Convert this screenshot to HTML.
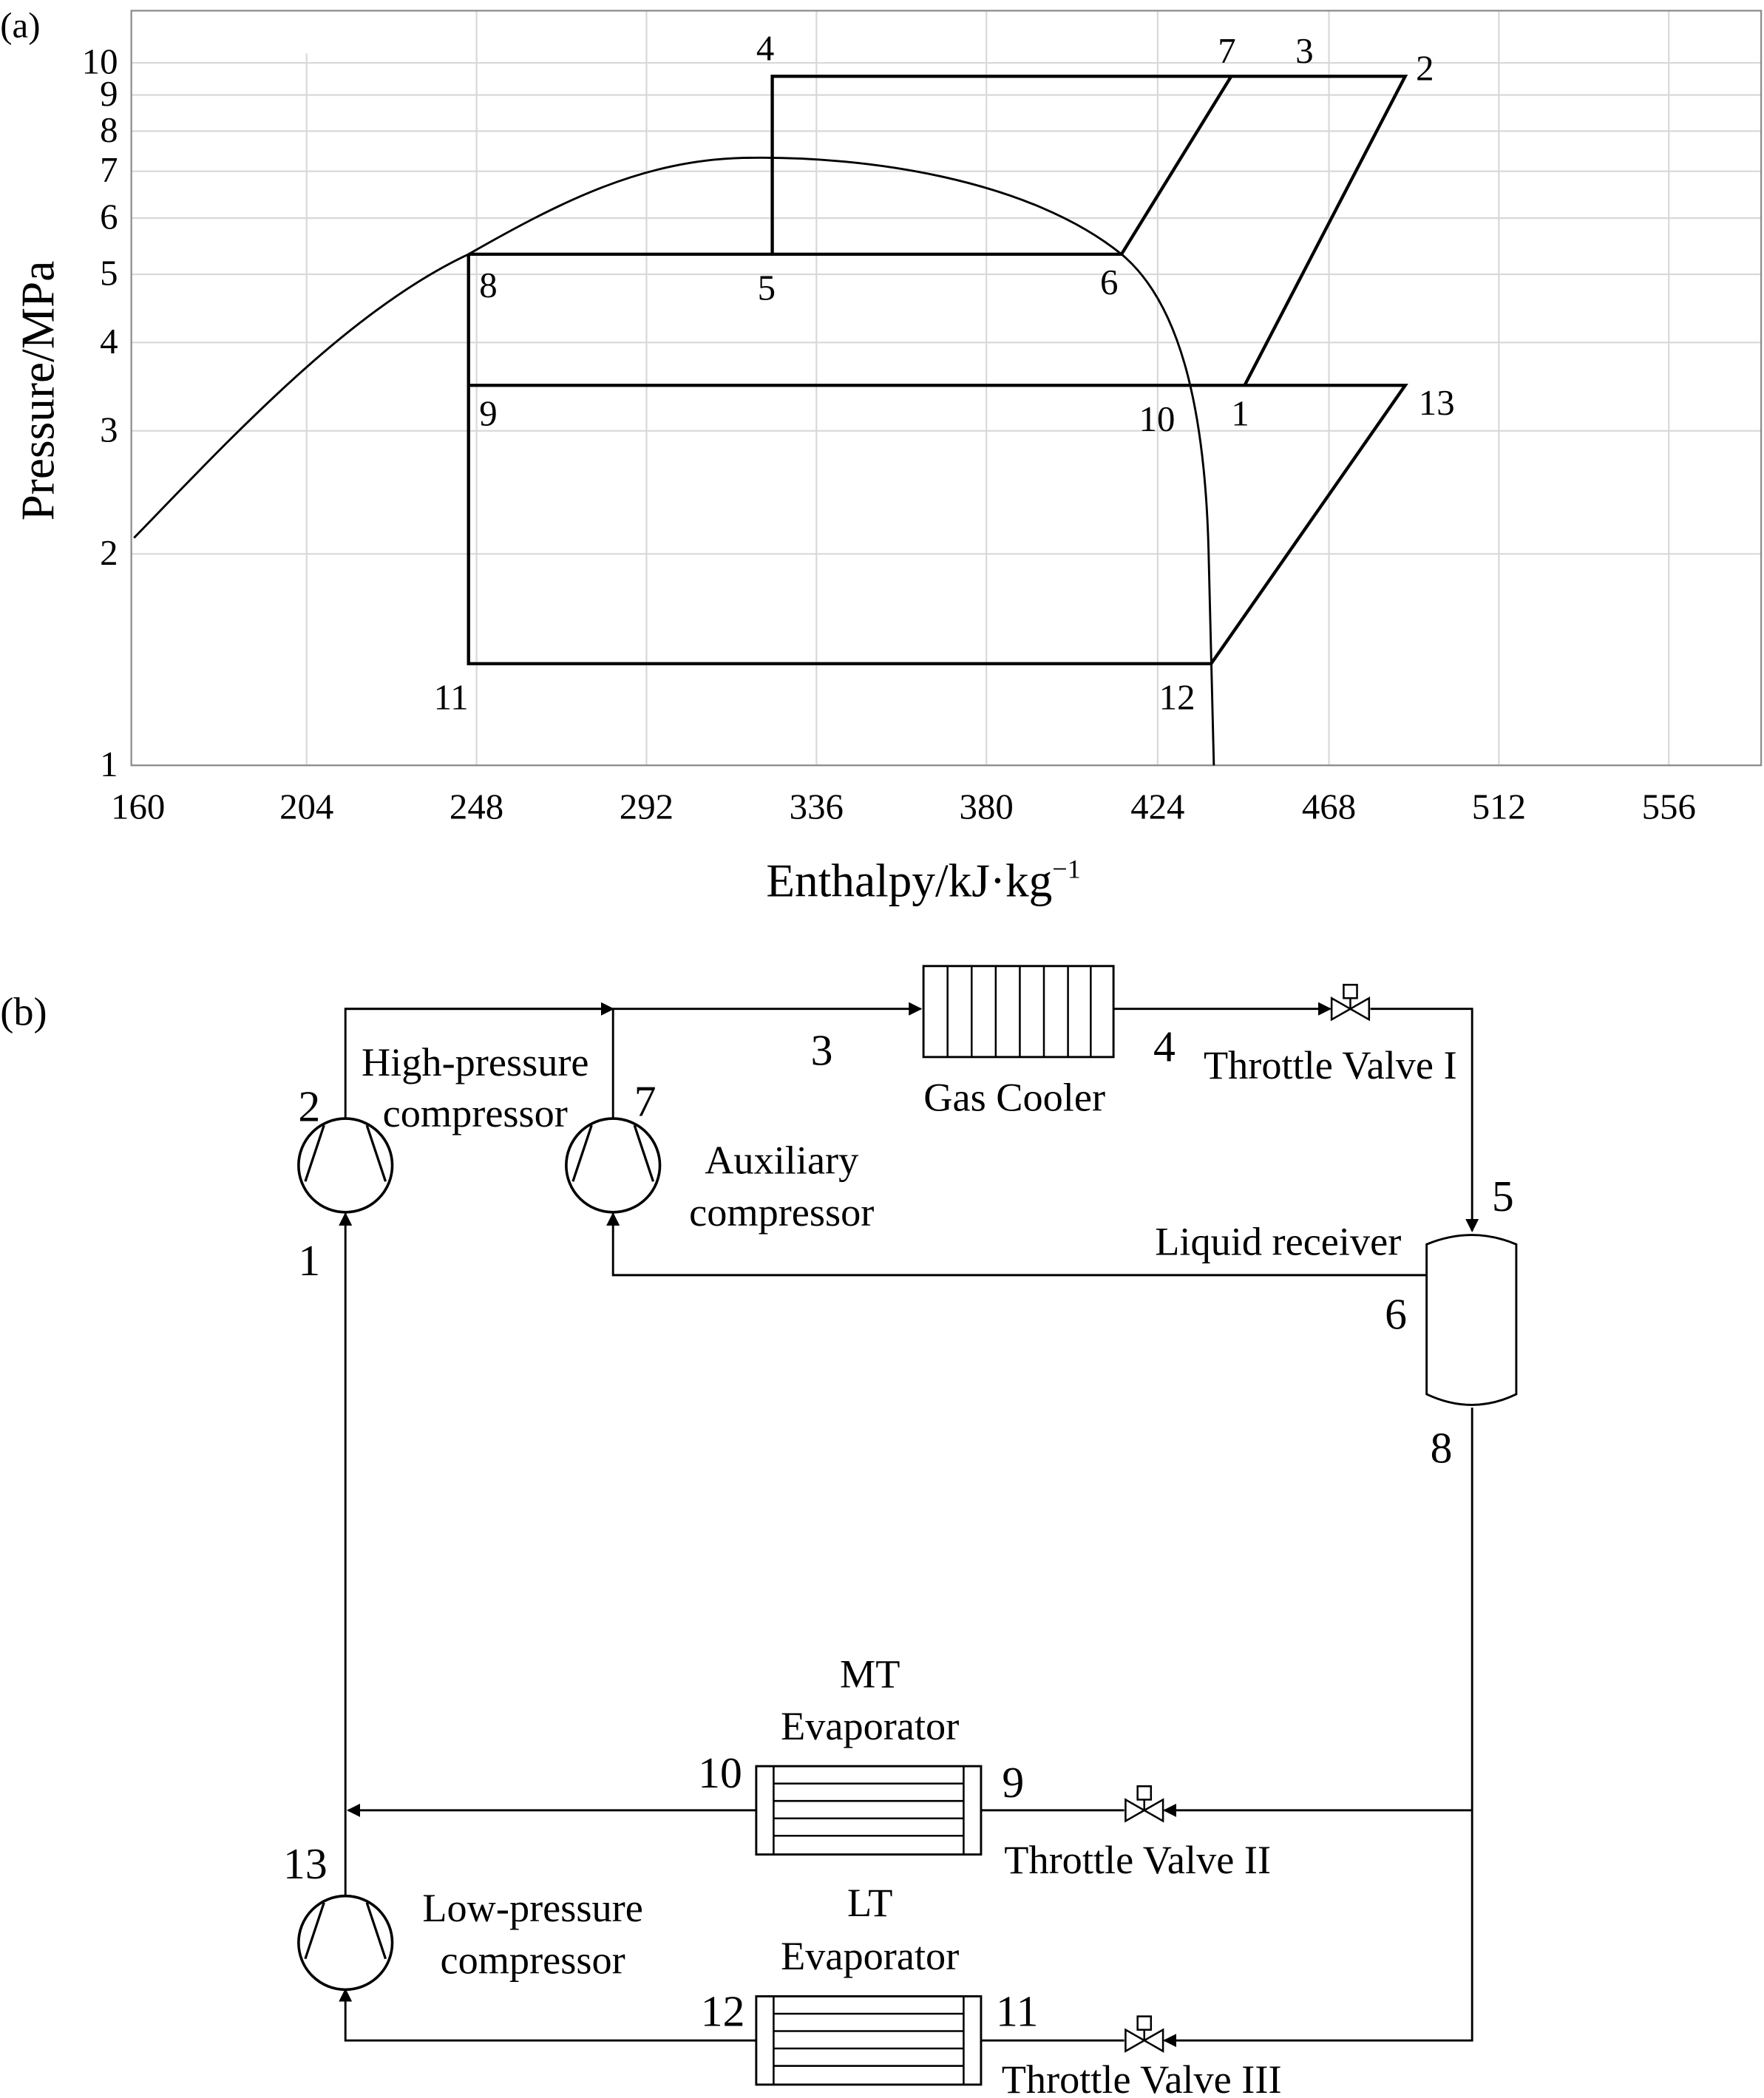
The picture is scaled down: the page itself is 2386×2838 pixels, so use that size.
<!DOCTYPE html>
<html><head><style>html,body{margin:0;padding:0;background:#fff}svg{display:block}</style></head>
<body>
<svg width="2386" height="2838" viewBox="0 0 1318 1568" xmlns="http://www.w3.org/2000/svg" font-family="Liberation Serif, serif" fill="#000">
<defs>
<marker id="ar" viewBox="0 0 10 10" refX="9" refY="5" markerWidth="10" markerHeight="10" markerUnits="userSpaceOnUse" orient="auto"><path d="M0,0 L10,5 L0,10 z"/></marker>
<g id="valve"><path d="M-14,-8 L-14,8 L0,0 Z M14,-8 L14,8 L0,0 Z" fill="#fff" stroke="#000" stroke-width="1.4"/><line x1="0" y1="0" x2="0" y2="-8" stroke="#000" stroke-width="1.4"/><rect x="-5" y="-18" width="10" height="10" fill="#fff" stroke="#000" stroke-width="1.4"/></g>
<g id="comp"><circle r="35" fill="#fff" stroke="#000" stroke-width="2"/><path d="M-16,-30 L-30,12 M16,-30 L30,12" fill="none" stroke="#000" stroke-width="1.8"/></g>
</defs>
<!-- (a) chart -->
<g stroke="#d8d8d8" stroke-width="1.2">
<line x1="98" y1="572" x2="1316" y2="572"/><line x1="98" y1="414" x2="1316" y2="414"/><line x1="98" y1="322" x2="1316" y2="322"/><line x1="98" y1="256" x2="1316" y2="256"/><line x1="98" y1="205" x2="1316" y2="205"/><line x1="98" y1="163" x2="1316" y2="163"/><line x1="98" y1="128" x2="1316" y2="128"/><line x1="98" y1="98" x2="1316" y2="98"/><line x1="98" y1="71" x2="1316" y2="71"/><line x1="98" y1="47" x2="1316" y2="47"/>
<line x1="229" y1="40" x2="229" y2="572"/><line x1="356" y1="8" x2="356" y2="572"/><line x1="483" y1="8" x2="483" y2="572"/><line x1="610" y1="8" x2="610" y2="572"/><line x1="737" y1="8" x2="737" y2="572"/><line x1="865" y1="8" x2="865" y2="572"/><line x1="993" y1="8" x2="993" y2="572"/><line x1="1120" y1="8" x2="1120" y2="572"/><line x1="1247" y1="8" x2="1247" y2="572"/>
</g>
<rect x="98" y="8" width="1218" height="564" fill="none" stroke="#888" stroke-width="1.2"/>
<path d="M100,402 C170,330 260,232 350,190 C420,150 480,120 555,118 C650,116 770,135 838,190 C880,225 900,300 903,410 L907,572" fill="none" stroke="#000" stroke-width="1.6"/>
<g fill="none" stroke="#000" stroke-width="2.4">
<path d="M577,190 L577,57 L1050,57 L930,288"/>
<path d="M350,190 L838,190 L920,57"/>
<path d="M350,190 L350,496 L905,496 L1050,288 L350,288"/>
</g>
<g font-size="27">
<text x="0" y="28">(a)</text>
<text x="88" y="580" text-anchor="end">1</text><text x="88" y="422" text-anchor="end">2</text><text x="88" y="330" text-anchor="end">3</text><text x="88" y="264" text-anchor="end">4</text><text x="88" y="213" text-anchor="end">5</text><text x="88" y="171" text-anchor="end">6</text><text x="88" y="136" text-anchor="end">7</text><text x="88" y="106" text-anchor="end">8</text><text x="88" y="79" text-anchor="end">9</text><text x="88" y="55" text-anchor="end">10</text>
<g text-anchor="middle"><text x="103" y="612">160</text><text x="229" y="612">204</text><text x="356" y="612">248</text><text x="483" y="612">292</text><text x="610" y="612">336</text><text x="737" y="612">380</text><text x="865" y="612">424</text><text x="993" y="612">468</text><text x="1120" y="612">512</text><text x="1247" y="612">556</text></g>
<text x="690" y="670" font-size="35" text-anchor="middle">Enthalpy/kJ·kg<tspan font-size="20" dy="-14">−1</tspan></text>
<text transform="translate(40,292) rotate(-90)" font-size="35" text-anchor="middle">Pressure/MPa</text>
<text x="565" y="45">4</text><text x="910" y="47">7</text><text x="968" y="47">3</text><text x="1058" y="60">2</text>
<text x="358" y="222">8</text><text x="566" y="224">5</text><text x="822" y="220">6</text>
<text x="358" y="318">9</text><text x="851" y="322">10</text><text x="920" y="318">1</text><text x="1060" y="310">13</text>
<text x="324" y="530">11</text><text x="866" y="530">12</text>
</g>
<!-- (b) schematic -->
<g font-size="30">
<text x="0" y="766">(b)</text>
</g>
<g fill="none" stroke="#000" stroke-width="1.6">
<path d="M258,836 L258,754 L688,754" marker-end="url(#ar)"/>
<path d="M258,754 L458,754" marker-end="url(#ar)"/>
<path d="M458,836 L458,754"/>
<path d="M832,754 L994,754" marker-end="url(#ar)"/>
<path d="M1024,754 L1100,754 L1100,920" marker-end="url(#ar)"/>
<path d="M1066,953 L458,953 L458,907" marker-end="url(#ar)"/>
<path d="M1100,1052 L1100,1525 L870,1525" marker-end="url(#ar)"/>
<path d="M1100,1353 L870,1353" marker-end="url(#ar)"/>
<path d="M840,1353 L733,1353"/><path d="M840,1525 L733,1525"/>
<path d="M565,1353 L260,1353" marker-end="url(#ar)"/>
<path d="M258,1417 L258,1353 L258,907" marker-end="url(#ar)"/>
<path d="M565,1525 L258,1525 L258,1487" marker-end="url(#ar)"/>
</g>
<use href="#comp" x="258" y="871"/><use href="#comp" x="458" y="871"/><use href="#comp" x="258" y="1452"/>
<use href="#valve" x="1009" y="754"/><use href="#valve" x="855" y="1353"/><use href="#valve" x="855" y="1525"/>
<!-- gas cooler -->
<rect x="690" y="722" width="142" height="68" fill="#fff" stroke="#000" stroke-width="1.6"/>
<g stroke="#000" stroke-width="1.4"><line x1="708" y1="722" x2="708" y2="790"/><line x1="726" y1="722" x2="726" y2="790"/><line x1="744" y1="722" x2="744" y2="790"/><line x1="762" y1="722" x2="762" y2="790"/><line x1="780" y1="722" x2="780" y2="790"/><line x1="798" y1="722" x2="798" y2="790"/><line x1="815" y1="722" x2="815" y2="790"/></g>
<!-- receiver -->
<path d="M1066,930 Q1100,916 1133,930 L1133,1042 Q1100,1058 1066,1042 Z" fill="#fff" stroke="#000" stroke-width="1.6"/>
<!-- evaporators -->
<g fill="#fff" stroke="#000" stroke-width="1.6">
<rect x="565" y="1320" width="168" height="66"/><rect x="565" y="1492" width="168" height="66"/>
</g>
<g stroke="#000" stroke-width="1.4">
<line x1="578" y1="1320" x2="578" y2="1386"/><line x1="720" y1="1320" x2="720" y2="1386"/>
<line x1="578" y1="1333" x2="720" y2="1333"/><line x1="578" y1="1346" x2="720" y2="1346"/><line x1="578" y1="1359" x2="720" y2="1359"/><line x1="578" y1="1372" x2="720" y2="1372"/>
<line x1="578" y1="1492" x2="578" y2="1558"/><line x1="720" y1="1492" x2="720" y2="1558"/>
<line x1="578" y1="1505" x2="720" y2="1505"/><line x1="578" y1="1518" x2="720" y2="1518"/><line x1="578" y1="1531" x2="720" y2="1531"/><line x1="578" y1="1544" x2="720" y2="1544"/>
</g>
<g font-size="30" text-anchor="middle">
<text x="355" y="804">High-pressure</text><text x="355" y="842">compressor</text>
<text x="584" y="877">Auxiliary</text><text x="584" y="916">compressor</text>
<text x="758" y="830">Gas Cooler</text>
<text x="994" y="806">Throttle Valve I</text>
<text x="955" y="938">Liquid receiver</text>
<text x="650" y="1261">MT</text><text x="650" y="1300">Evaporator</text>
<text x="850" y="1400">Throttle Valve II</text>
<text x="650" y="1432">LT</text><text x="650" y="1472">Evaporator</text>
<text x="853" y="1564">Throttle Valve III</text>
<text x="398" y="1436">Low-pressure</text><text x="398" y="1475">compressor</text>
</g>
<g font-size="33" text-anchor="middle">
<text x="231" y="838">2</text><text x="231" y="953">1</text><text x="482" y="834">7</text>
<text x="614" y="796">3</text><text x="870" y="793">4</text>
<text x="1123" y="905">5</text><text x="1043" y="993">6</text><text x="1077" y="1093">8</text>
<text x="538" y="1336">10</text><text x="757" y="1343">9</text>
<text x="228" y="1404">13</text>
<text x="540" y="1514">12</text><text x="760" y="1514">11</text>
</g>
</svg>
</body></html>
